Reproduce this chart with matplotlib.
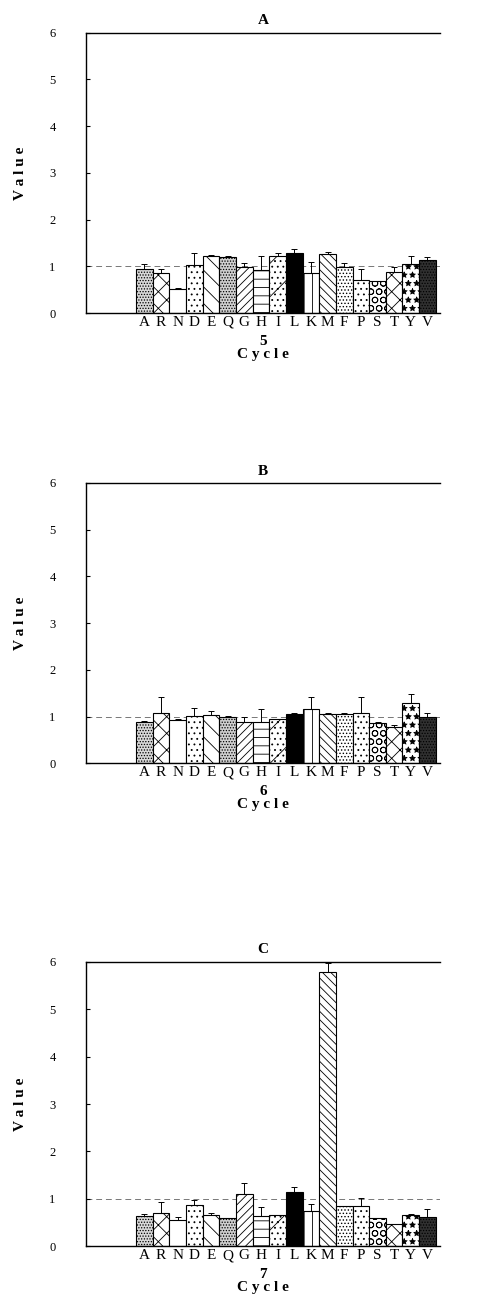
import numpy as np
import matplotlib
matplotlib.use("Agg")
import matplotlib.pyplot as plt

plt.rcParams['font.family'] = ['Liberation Serif', 'DejaVu Serif']
plt.rcParams['hatch.linewidth'] = 0.6

residues = ['A', 'R', 'N', 'D', 'E', 'Q', 'G', 'H', 'I', 'L',
            'K', 'M', 'F', 'P', 'S', 'T', 'Y', 'V']

# cycle 5
vals_a = [0.95, 0.87, 0.52, 1.04, 1.22, 1.21, 0.99, 0.93, 1.22, 1.28,
          0.85, 1.26, 0.98, 0.70, 0.69, 0.89, 1.06, 1.13]
err_a = [0.10, 0.08, 0.02, 0.24, 0.02, 0.02, 0.09, 0.29, 0.06, 0.10,
         0.25, 0.04, 0.10, 0.25, 0.00, 0.09, 0.16, 0.07]
# cycle 6
vals_b = [0.89, 1.08, 0.93, 1.01, 1.04, 1.00, 0.88, 0.89, 0.95, 1.06,
          1.16, 1.06, 1.05, 1.08, 0.86, 0.78, 1.30, 1.00]
err_b = [0.02, 0.34, 0.02, 0.17, 0.08, 0.01, 0.11, 0.27, 0.01, 0.01,
         0.25, 0.01, 0.02, 0.33, 0.02, 0.04, 0.19, 0.07]
# cycle 7
vals_c = [0.63, 0.70, 0.56, 0.86, 0.65, 0.59, 1.10, 0.63, 0.65, 1.14,
          0.75, 5.78, 0.84, 0.84, 0.60, 0.46, 0.65, 0.61]
err_c = [0.05, 0.24, 0.05, 0.12, 0.06, 0.00, 0.23, 0.19, 0.01, 0.12,
         0.14, 0.20, 0.01, 0.18, 0.00, 0.00, 0.04, 0.17]

panels = [('A', '5', vals_a, err_a), ('B', '6', vals_b, err_b), ('C', '7', vals_c, err_c)]

# fill, hatch per residue (imitating the printed patterns)
styles = [('#d8d8d8', '......'), ('white', 'xx'), ('white', ''), ('white', '...'),
          ('white', '\\\\'), ('#d0d0d0', '......'), ('white', '////'), ('white', '--'),
          ('white', '/...'), ('black', ''), ('white', '||'), ('white', '\\\\\\\\'),
          ('white', '.....'), ('white', '...'), ('white', 'OO'), ('white', '//\\\\'),
          ('white', '**'), ('#303030', '......')]

fig = plt.figure(figsize=(4.84, 13.05), dpi=100)
boxes = [[0.178, 0.760, 0.731, 0.215],
         [0.178, 0.415, 0.731, 0.215],
         [0.178, 0.045, 0.731, 0.218]]

x = np.arange(len(residues))
for box, (title, cyc, vals, errs) in zip(boxes, panels):
    ax = fig.add_axes(box)
    for i in range(len(residues)):
        fc, h = styles[i]
        ax.bar(x[i], vals[i], width=1.0, color=fc, edgecolor='black',
               hatch=h, linewidth=0.8, zorder=2)
    ax.errorbar(x, vals, yerr=[np.zeros(len(errs)), errs], fmt='none',
                ecolor='black', elinewidth=0.7, capsize=2, capthick=0.7, zorder=3)
    ax.axhline(1.0, color='#777777', lw=0.7, ls=(0, (6, 4)), zorder=1)
    ax.set_xlim(-3.5, 17.75)
    ax.set_ylim(0, 6)
    ax.set_yticks(range(7))
    ax.set_xticks(x)
    ax.set_xticklabels(residues, fontsize=11)
    ax.tick_params(axis='x', length=0, pad=2)
    ax.tick_params(axis='y', direction='in', length=3, labelsize=9, pad=22)
    ax.spines['right'].set_visible(False)
    for s in ['top', 'left', 'bottom']:
        ax.spines[s].set_linewidth(1.0)
    ax.set_title(title, fontsize=11, fontweight='bold', pad=6)
    ax.set_ylabel('V a l u e', fontsize=11, fontweight='bold', labelpad=16)
    ax.set_xlabel(cyc + '\nC y c l e', fontsize=11, fontweight='bold',
                  labelpad=4, linespacing=1.0)

fig.savefig('out.png', dpi=100)
